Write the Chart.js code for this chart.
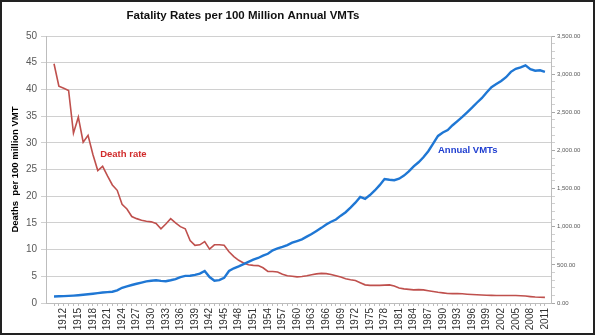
<!DOCTYPE html>
<html><head><meta charset="utf-8">
<script src="https://cdn.jsdelivr.net/npm/chart.js@4"></script>
<style>html,body{margin:0;padding:0;background:#fff}canvas{display:block}</style>
</head><body>
<canvas id="c" width="595" height="335"></canvas>
<script>
const years = [
1910,1911,1912,1913,1914,1915,1916,1917,1918,1919,
1920,1921,1922,1923,1924,1925,1926,1927,1928,1929,
1930,1931,1932,1933,1934,1935,1936,1937,1938,1939,
1940,1941,1942,1943,1944,1945,1946,1947,1948,1949,
1950,1951,1952,1953,1954,1955,1956,1957,1958,1959,
1960,1961,1962,1963,1964,1965,1966,1967,1968,1969,
1970,1971,1972,1973,1974,1975,1976,1977,1978,1979,
1980,1981,1982,1983,1984,1985,1986,1987,1988,1989,
1990,1991,1992,1993,1994,1995,1996,1997,1998,1999,
2000,2001,2002,2003,2004,2005,2006,2007,2008,2009,
2010,2011];

const deathRate = [
44.8,40.6,40.2,39.8,31.8,34.8,30.1,31.4,27.8,24.8,
25.6,23.8,22.1,21.1,18.5,17.6,16.2,15.8,15.5,15.3,
15.2,14.9,13.9,14.8,15.8,15.0,14.3,13.9,11.7,10.8,
10.9,11.5,10.1,10.9,10.9,10.8,9.6,8.7,8.0,7.5,
7.15,7.05,7.0,6.6,5.9,5.9,5.8,5.4,5.1,5.0,
4.9,4.95,5.1,5.3,5.45,5.55,5.5,5.35,5.1,4.85,
4.55,4.35,4.2,3.8,3.4,3.3,3.3,3.3,3.35,3.4,
3.2,2.8,2.65,2.55,2.45,2.5,2.45,2.3,2.15,2.0,
1.9,1.78,1.75,1.75,1.72,1.65,1.6,1.55,1.5,1.45,
1.42,1.4,1.4,1.4,1.4,1.4,1.35,1.3,1.2,1.12,
1.08,1.05];

const annualVMT = [
86,88,90,93,97,102,108,115,122,130,
137,142,148,165,200,218,236,252,268,283,
292,298,290,285,298,314,340,355,357,368,
385,420,340,292,300,330,420,455,480,510,
540,568,590,620,645,690,715,735,760,790,
812,835,870,905,945,985,1030,1065,1095,1145,
1190,1250,1315,1390,1365,1415,1475,1545,1625,1615,
1610,1630,1670,1725,1790,1845,1910,1990,2090,2190,
2235,2267,2330,2385,2440,2500,2560,2625,2685,2760,
2830,2870,2910,2960,3030,3070,3090,3115,3065,3045,
3050,3030];

const tickYears = [1912,1915,1918,1921,1924,1927,1930,1933,1936,1939,1942,1945,1948,1951,1954,1957,1960,1963,1966,1969,1972,1975,1978,1981,1984,1987,1990,1993,1996,1999,2002,2005,2008,2011];

const chartTitle = 'Fatality Rates per 100 Million Annual VMTs';
const leftAxisTitle = 'Deaths  per 100 million VMT';
const labelDeath = {text:'Death rate', x:1919.5, y:27.9};
const labelVMT = {text:'Annual VMTs', x:1989.0, y:2005};

const decorPlugin = {
  id:'decor',
  beforeDraw(chart){
    const ctx = chart.ctx;
    ctx.save(); ctx.fillStyle='#fff'; ctx.fillRect(0,0,chart.width,chart.height); ctx.restore();
  },
  afterDatasetsDraw(chart){
    const ctx = chart.ctx, sx = chart.scales.x, sy = chart.scales.y, sy1 = chart.scales.y1;
    ctx.save();
    ctx.font = 'bold 9.5px "Liberation Sans", Arial, sans-serif';
    ctx.textBaseline = 'middle'; ctx.textAlign = 'left';
    ctx.fillStyle = '#D12B2B';
    ctx.fillText(labelDeath.text, sx.getPixelForValue(labelDeath.x), sy.getPixelForValue(labelDeath.y));
    ctx.fillStyle = '#1F3ED0';
    ctx.fillText(labelVMT.text, sx.getPixelForValue(labelVMT.x), sy1.getPixelForValue(labelVMT.y));
    ctx.restore();
  },
  afterDraw(chart){
    const ctx = chart.ctx;
    ctx.save();
    ctx.font = 'bold 11.5px "Liberation Sans", Arial, sans-serif';
    ctx.fillStyle = '#111'; ctx.textAlign='center'; ctx.textBaseline='middle';
    ctx.fillText(chartTitle, 243, 16);
    ctx.strokeStyle = '#222'; ctx.lineWidth = 2;
    ctx.strokeRect(1,1,chart.width-2,chart.height-2);
    ctx.restore();
  }
};

new Chart(document.getElementById('c'), {
  type:'line',
  data:{
    datasets:[
      {label:'Annual VMTs', data: years.map((yr,i)=>({x:yr, y:annualVMT[i]})), yAxisID:'y1',
       borderColor:'#1F77D4', borderWidth:2.4, pointRadius:0, tension:0, fill:false},
      {label:'Death rate', data: years.map((yr,i)=>({x:yr, y:deathRate[i]})), yAxisID:'y',
       borderColor:'#BF504D', borderWidth:1.6, pointRadius:0, tension:0, fill:false}
    ]
  },
  options:{
    responsive:false, animation:false, devicePixelRatio:1,
    layout:{padding:{top:36,left:0,right:0,bottom:0}},
    plugins:{legend:{display:false}, title:{display:false}, tooltip:{enabled:false}},
    scales:{
      x:{
        type:'linear', position:'bottom', min:1908.35, max:2012.25,
        afterBuildTicks(axis){ axis.ticks = years.map(v=>({value:v})); },
        afterFit(axis){ axis.height = 32; },
        grid:{drawOnChartArea:false, drawTicks:true, tickLength:3, color:'#bdbdbd'},
        border:{display:true, color:'#bdbdbd'},
        ticks:{autoSkip:false, maxRotation:90, minRotation:90, padding:2, color:'#333',
          font:{family:'"Liberation Sans", Arial, sans-serif', size:10},
          callback:(v)=> tickYears.includes(v) ? String(v) : ''}
      },
      y:{
        position:'left', min:0, max:50,
        afterFit(axis){ axis.width = 46; },
        grid:{color:'#d0d0d0', tickLength:5},
        border:{display:true, color:'#bdbdbd'},
        ticks:{stepSize:5, padding:4, color:'#595959',
          font:{family:'"Liberation Sans", Arial, sans-serif', size:10}},
        title:{display:true, text:leftAxisTitle, color:'#000', padding:{top:10,bottom:0},
          font:{family:'"Liberation Sans", Arial, sans-serif', size:9.5, weight:'bold'}}
      },
      y1:{
        position:'right', min:0, max:3500,
        afterFit(axis){ axis.width = 44; },
        grid:{drawOnChartArea:false, tickLength:4,
          color:(c)=> (c.tick && c.tick.value % 500 === 0) ? '#a8a8a8' : '#d0d0d0'},
        border:{display:true, color:'#bdbdbd'},
        ticks:{stepSize:100, autoSkip:false, padding:2, color:'#595959',
          font:{family:'"Liberation Sans", Arial, sans-serif', size:6},
          callback:(v)=> v % 500 === 0 ? v.toLocaleString('en-US',{minimumFractionDigits:2, maximumFractionDigits:2}) : ''}
      }
    }
  },
  plugins:[decorPlugin]
});
</script>
</body></html>
